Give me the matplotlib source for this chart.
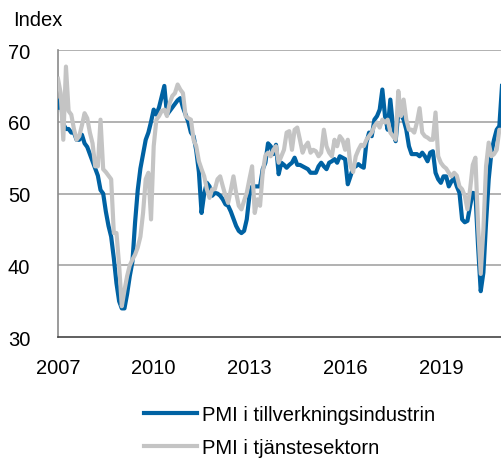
import numpy as np
import matplotlib
matplotlib.use("Agg")
import matplotlib.pyplot as plt

plt.rcParams['font.family'] = ['Liberation Sans', 'DejaVu Sans']

# månadsdata jan 2007 - dec 2020
start_year = 2007
manufacturing = [
    62, 63.2, 59.7, 59, 59, 58.5, 58.5, 57.5, 57.5, 58.2, 57, 56.5,
    55.5, 54.5, 53.5, 52.5, 50.5, 50, 47.5, 45.5, 44, 41, 37.5, 35,
    34, 34, 36, 38.5, 40.5, 46, 50.5, 53.5, 55.5, 57.5, 58.5, 60,
    61.7, 61, 62, 63.5, 65, 61, 61.5, 62, 62.5, 63, 63.3, 62,
    61, 60, 58.5, 58, 56, 53, 47.3, 50, 51.5, 51, 49.7, 50.1,
    50, 49.7, 49.2, 48.5, 48.3, 47.5, 46.5, 45.5, 44.8, 44.5, 44.8, 46.4,
    49.7, 51, 51, 51, 51, 53.4, 54.3, 57, 56.6, 55.5, 56.8, 52.7,
    54.3, 54, 53.6, 54, 54.3, 55, 54, 54, 53.8, 53.6, 53.4, 52.9,
    52.9, 52.9, 53.8, 54.3, 53.8, 53.4, 54.3, 54.5, 54.8, 54.3, 55.2, 55,
    54.8, 51.3, 52.4, 53.6, 53.8, 54.1, 53.8, 53.6, 57.1, 58.5, 58, 60.3,
    60.8, 61.7, 64.5, 60.8, 58.9, 63.1, 59.4, 57.3, 61.3, 61, 60.3, 58.9,
    56.6, 55.5, 55.5, 55.5, 55.2, 55.7, 55.2, 54.5, 55.7, 55.9, 52.9, 52,
    51.5, 52.4, 52.4, 51, 51.7, 52.2, 51, 50.1, 46.4, 46, 46.2, 48.3,
    50.1, 50, 42.7, 36.4, 39, 45.9, 52, 55.7, 57.5, 58.9, 59.4, 65,
]
services = [
    66, 64, 57.5, 67.7, 61.5, 61, 59, 57.5, 58, 59.5, 61.2, 60.5,
    58.5, 57, 53.8, 53.8, 60.3, 53.4, 53, 52.5, 52, 44.5, 44.5, 40,
    34.3, 36.5, 38.5, 40, 40.8, 41.5, 42.5, 44, 47.3, 52, 52.9, 46.4,
    56.6, 60.3, 60.8, 61.5, 61.7, 60.8, 62.6, 63.6, 64, 65.2, 64.5, 64,
    60.8, 60.5, 60.3, 57.5, 56.6, 54.5, 53.4, 52.4, 50.6, 49.4, 50.6, 50.6,
    52, 52.4, 51, 49.7, 48.7, 50.5, 52.4, 50.1, 48.3, 47.8, 49, 50.1,
    52, 53.8, 47.3, 49.2, 48.3, 52.9, 55.3, 55.7, 55.2, 56.1, 56.6, 54.3,
    55.2, 56.1, 58.5, 58.7, 56.1, 58.9, 59.2, 57.5, 55.7, 56.6, 57.1, 55.7,
    56.1, 55.9, 55.2, 55.7, 58.9, 56.6, 55.7, 55.2, 57.5, 56.6, 58, 57.5,
    56.1, 57.5, 53.8, 53, 55.2, 56.1, 56.8, 56.6, 57.5, 58, 58.5, 59.4,
    59.9, 59.2, 60.3, 59.9, 60.3, 58.5, 58, 57.5, 64.3, 60.8, 63.1, 60.3,
    58.9, 58.9, 58.5, 59.9, 61.9, 58.5, 58, 57.8, 57.5, 57.5, 61.3, 55.2,
    54.3, 53.8, 53.5, 52.9, 52.4, 52.9, 52.5, 51, 50.6, 49.7, 47.8, 50.6,
    54, 55, 45.5, 38.8, 45, 53.8, 57.1, 55.2, 55.5, 56.1, 58.9, 58.7,
]
labels = ["PMI i tillverkningsindustrin", "PMI i tjänstesektorn"]
xticks = [2007, 2010, 2013, 2016, 2019]
yticks = [30, 40, 50, 60, 70]

t = start_year + np.arange(len(manufacturing)) / 12.0

fig = plt.figure(figsize=(5.02, 4.60), dpi=100)
ax = fig.add_axes([0.1155, 0.265, 0.8845, 0.624])

l1, = ax.plot(t, manufacturing, color="#0062A3", lw=3.0, solid_joinstyle="round", zorder=3)
l2, = ax.plot(t, services, color="#C4C4C4", lw=3.0, solid_joinstyle="round", zorder=4)

ax.set_xlim(t[0], t[-1])
ax.set_ylim(30, 70)
ax.set_xticks(xticks)
ax.set_xticklabels([str(x) for x in xticks])
ax.set_yticks(yticks)
ax.tick_params(length=0, labelsize=14.5, colors="black")
ax.tick_params(axis="y", pad=20)
ax.tick_params(axis="x", pad=15)

for y in yticks[1:]:
    ax.axhline(y, color="#ababab", lw=1.3, zorder=1)

for s in ["top", "right"]:
    ax.spines[s].set_visible(False)
ax.spines["left"].set_color("#8a8a8a")
ax.spines["left"].set_linewidth(1.2)
ax.spines["bottom"].set_color("#444444")
ax.spines["bottom"].set_linewidth(1.2)

fig.text(0.026, 0.956, "Index", fontsize=14.5, va="center", ha="left")

fig.legend([l1, l2], labels, loc="upper left", bbox_to_anchor=(0.287, 0.117),
           frameon=False, fontsize=14.5, handlelength=2.64, handletextpad=0.25,
           labelspacing=0.68, borderaxespad=0, borderpad=0)

fig.savefig("out.png", dpi=100)
